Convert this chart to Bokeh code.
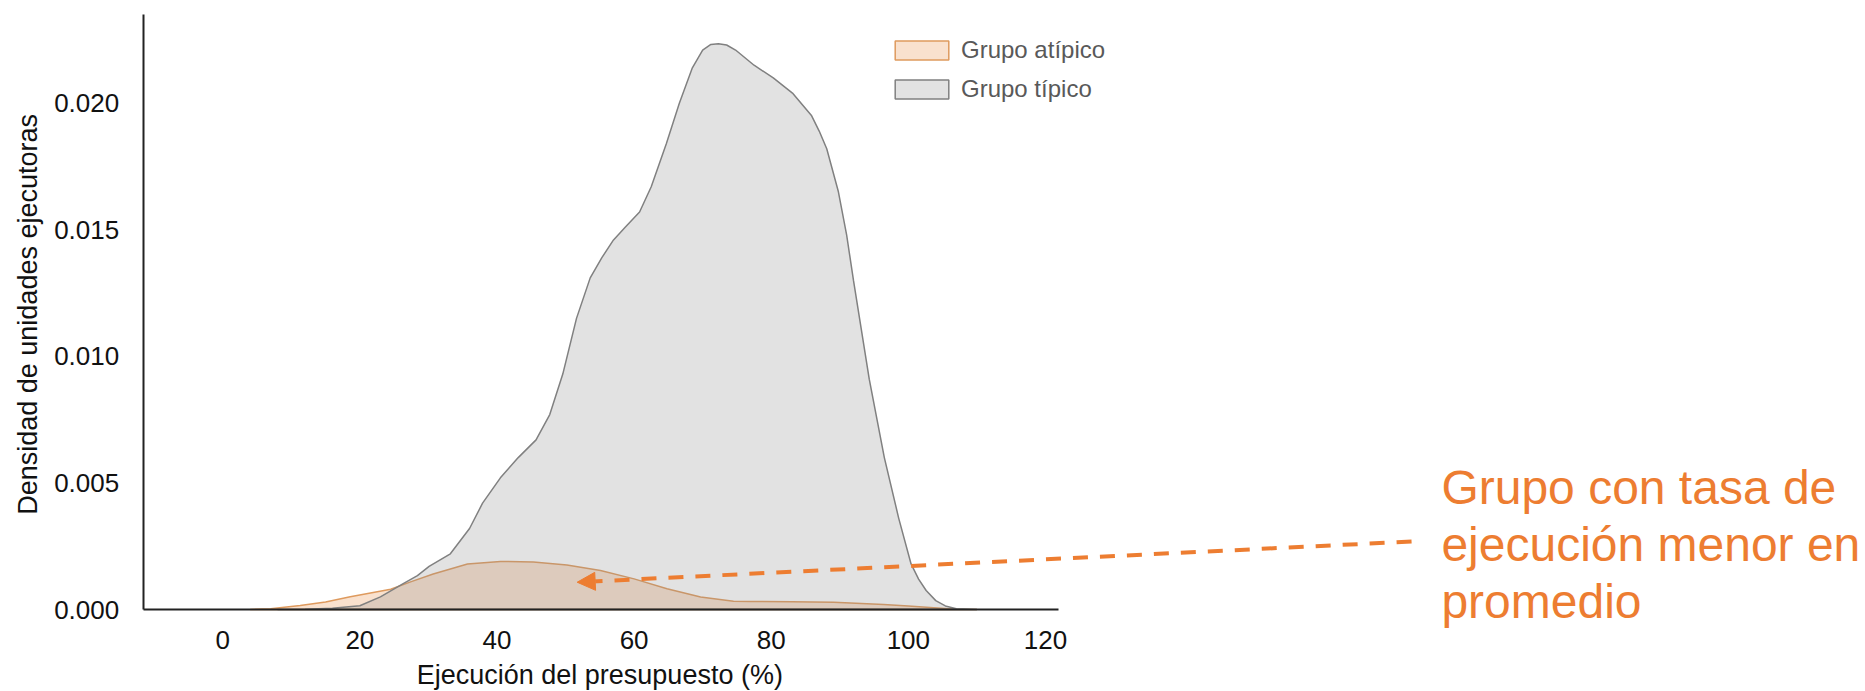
import math
from bokeh.plotting import figure
from bokeh.models import (Range1d, FixedTicker, PrintfTickFormatter, Legend, LegendItem,
                          Label, Arrow, NormalHead, LinearAxis)
from bokeh.embed import file_html
from bokeh.resources import INLINE

# ---------------- data ----------------
typical_x = [8, 12, 16, 20, 23, 26.2, 28.4, 30.1, 33.2, 36.0, 37.9, 40.5, 43.1, 45.7,
             47.7, 49.6, 51.6, 53.6, 55.3, 57.0, 58.7, 60.8, 62.5, 64.7, 66.6, 68.5,
             70.0, 71.2, 72.3, 73.5, 74.8, 77.5, 80.3, 83.1, 85.9, 87.0, 88.1, 89.8,
             91.0, 92.0, 94.3, 96.5, 98.6, 100.4, 101.5, 102.6, 104.0, 105.4, 107.0,
             110.0]
typical_y = [0.0, 0.00001, 0.00005, 0.00015, 0.0005, 0.0010, 0.00134, 0.0017, 0.0022,
             0.0032, 0.0042, 0.0052, 0.0060, 0.0067, 0.0077, 0.0093, 0.0115, 0.0131,
             0.0139, 0.0146, 0.0151, 0.0157, 0.0167, 0.0184, 0.0200, 0.0214, 0.0221,
             0.02232, 0.02235, 0.0223, 0.0221, 0.0215, 0.0210, 0.0204, 0.0195, 0.0189,
             0.0182, 0.0165, 0.0148, 0.0130, 0.0091, 0.0060, 0.0036, 0.0018, 0.0012,
             0.00075, 0.00035, 0.00014, 0.00003, 0.0]

atypical_x = [4, 7, 11.3, 15, 18.6, 24.5, 27.5, 30.7, 35.7, 40.5, 45.3, 50.2, 55.1, 60.0,
              64.8, 69.7, 74.5, 77.0, 83.0, 89.1, 96.4, 100.0, 103.7, 107.0, 110.0]
atypical_y = [0.0, 0.00003, 0.00016, 0.0003, 0.0005, 0.0008, 0.0011, 0.0014, 0.0018,
              0.0019, 0.00188, 0.00176, 0.00154, 0.00121, 0.00082, 0.00049, 0.00033,
              0.00032, 0.00031, 0.00029, 0.0002, 0.00014, 0.00007, 0.00001, 0.0]

x_ticks = [0, 20, 40, 60, 80, 100, 120]
y_ticks = [0.0, 0.005, 0.010, 0.015, 0.020]
series_labels = ["Grupo atípico", "Grupo típico"]
annotation_lines = ["Grupo con tasa de", "ejecución menor en", "promedio"]
x_label = "Ejecución del presupuesto (%)"
y_label = "Densidad de unidades ejecutoras"

# ---------------- layout / styling ----------------
W, H = 1865, 691
FRAME_LEFT_PX = 142.7    # canvas x where x = X_MIN
BASE_PX = 609.0          # canvas y where y = 0
X_PX = 6.856             # pixels per x unit
Y_PX = 25315.0           # pixels per y unit
X_MIN, X_MAX = -11.6, 121.9
Y_TOP = 0.0235

x0 = X_MIN - FRAME_LEFT_PX / X_PX
x1 = x0 + W / X_PX
y1 = BASE_PX / Y_PX
y0 = -(H - BASE_PX) / Y_PX

FONT = "Liberation Sans"
ORANGE = "#ED7D31"
ATYP_FILL = "#E8893A"
ATYP_LINE = "#DE9A5E"
TYP_FILL = "#8c8c8c"
TYP_LINE = "#808080"
AXIS_COLOR = "#222222"
TEXT_COLOR = "#111111"

p = figure(width=W, height=H, output_backend="svg", toolbar_location=None,
           x_range=Range1d(x0, x1), y_range=Range1d(y0, y1),
           x_axis_type=None, y_axis_type=None,
           min_border_left=0, min_border_right=0, min_border_top=0,
           min_border_bottom=0)
p.outline_line_color = None
p.background_fill_color = "white"
p.border_fill_color = "white"

r_atip = p.patch(atypical_x, atypical_y, fill_color=ATYP_FILL, fill_alpha=0.25,
                 line_color=ATYP_LINE, line_width=1.5)
r_tip = p.patch(typical_x, typical_y, fill_color=TYP_FILL, fill_alpha=0.25,
                line_color=TYP_LINE, line_width=1.5)

# axes drawn at fixed locations with limited extent
xaxis = LinearAxis(fixed_location=0, bounds=(X_MIN, X_MAX),
                   ticker=FixedTicker(ticks=x_ticks))
yaxis = LinearAxis(fixed_location=X_MIN, bounds=(0, Y_TOP),
                   ticker=FixedTicker(ticks=y_ticks),
                   formatter=PrintfTickFormatter(format="%.3f"))
for ax in (xaxis, yaxis):
    ax.major_tick_line_color = None
    ax.minor_tick_line_color = None
    ax.axis_line_width = 2
    ax.axis_line_color = AXIS_COLOR
    ax.major_label_text_font = FONT
    ax.major_label_text_font_size = "26px"
    ax.major_label_text_color = TEXT_COLOR
xaxis.major_label_standoff = 15
yaxis.major_label_standoff = 18
p.add_layout(xaxis, "below")
p.add_layout(yaxis, "left")

# axis titles
p.add_layout(Label(x=55.0, y=-0.00258, text=x_label, text_font=FONT,
                   text_font_size="27px", text_color=TEXT_COLOR,
                   text_align="center", text_baseline="alphabetic"))
p.add_layout(Label(x=-28.33, y=0.011657, text=y_label, text_font=FONT,
                   text_font_size="27px", text_color=TEXT_COLOR, angle=math.pi / 2,
                   text_align="center", text_baseline="alphabetic"))

# legend
legend = Legend(items=[LegendItem(label=series_labels[0], renderers=[r_atip]),
                       LegendItem(label=series_labels[1], renderers=[r_tip])],
                location=(888, 588), orientation="vertical",
                glyph_width=67, glyph_height=24, label_height=19, spacing=11,
                padding=0, margin=0, label_standoff=6,
                border_line_alpha=0, background_fill_alpha=0,
                label_text_font=FONT, label_text_font_size="24px",
                label_text_color="#595959")
p.add_layout(legend)

# annotation arrow and text
p.add_layout(Arrow(end=NormalHead(size=18, fill_color=ORANGE, line_color=ORANGE, line_width=1),
                   x_start=173.4, y_start=0.002686, x_end=51.7, y_end=0.001078,
                   line_color=ORANGE, line_width=4, line_dash="15 12"))

ann_y = [0.004807, 0.002568, 0.000328]
for txt, yy in zip(annotation_lines, ann_y):
    p.add_layout(Label(x=177.75, y=yy, text=txt, text_font=FONT, text_font_size="48px",
                       text_color=ORANGE, text_baseline="alphabetic", text_align="left"))

open("out.html", "w").write(file_html(p, INLINE))
